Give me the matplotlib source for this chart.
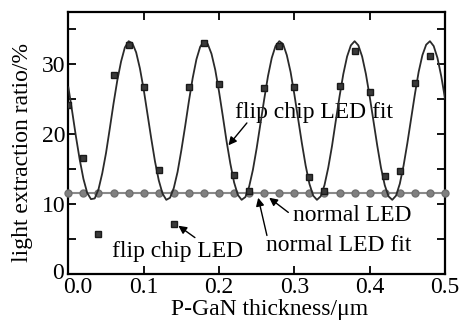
import numpy as np
import matplotlib
matplotlib.use("Agg")
import matplotlib.pyplot as plt
import matplotlib.transforms as mtransforms

plt.rcParams['font.family'] = ['Liberation Serif', 'DejaVu Serif']

# flip chip LED measured points
flip_x = [0.00, 0.02, 0.04, 0.06, 0.08, 0.10, 0.12, 0.14, 0.16, 0.18, 0.20, 0.22,
          0.24, 0.26, 0.28, 0.30, 0.32, 0.34, 0.36, 0.38, 0.40, 0.42, 0.44, 0.46, 0.48]
flip_y = [24.1, 16.6, 5.7, 28.4, 32.8, 26.8, 14.8, 7.1, 26.8, 33.1, 27.2, 14.1,
          11.8, 26.6, 32.6, 26.8, 13.8, 11.9, 26.9, 31.9, 26.1, 14.0, 14.7, 27.3, 31.2]

# flip chip LED fit curve, read every 0.005 um
fit_x = np.linspace(0, 0.5, 101)
fit_y = [26.7, 23.3, 19.7, 16.4, 13.6, 11.6, 10.7, 10.8, 12.1, 14.4,
         17.3, 20.8, 24.4, 27.7, 30.4, 32.4, 33.3, 33.0, 31.7, 29.4,
         26.4, 22.9, 19.4, 16.1, 13.4, 11.5, 10.6, 10.9, 12.3, 14.6,
         17.7, 21.1, 24.7, 28.0, 30.7, 32.5, 33.3, 32.9, 31.5, 29.2,
         26.1, 22.6, 19.0, 15.8, 13.1, 11.3, 10.6, 11.0, 12.5, 14.9,
         18.0, 21.5, 25.0, 28.3, 30.9, 32.6, 33.3, 32.9, 31.3, 28.9,
         25.7, 22.2, 18.7, 15.5, 12.9, 11.2, 10.6, 11.1, 12.7, 15.2,
         18.3, 21.9, 25.4, 28.6, 31.1, 32.7, 33.3, 32.7, 31.1, 28.6,
         25.4, 21.9, 18.4, 15.2, 12.7, 11.1, 10.6, 11.2, 12.9, 15.5,
         18.7, 22.2, 25.7, 28.9, 31.3, 32.8, 33.3, 32.6, 30.9, 28.3,
         25.1]

# normal LED points and fit
normal_x = np.round(np.arange(0, 0.501, 0.02), 2)
normal_y = [11.6] * len(normal_x)
normal_fit_x = [0.0, 0.5]
normal_fit_y = [11.6, 11.6]

fs = 17

fig = plt.figure(figsize=(4.65, 3.2), dpi=100)
ax = fig.add_axes([0.147, 0.144, 0.81, 0.819])

ax.plot(normal_fit_x, normal_fit_y, color='#8a8a8a', lw=1.5, zorder=2)
ax.plot(normal_x, normal_y, 'o', color='#808080', ms=5, mec='#707070', zorder=3, clip_on=False)
ax.plot(fit_x, fit_y, color='#2a2a2a', lw=1.3, zorder=4)
ax.plot(flip_x, flip_y, 's', color='#3a3a3a', ms=4.3, mec='#1a1a1a', zorder=5)

ax.set_xlim(0, 0.5)
ax.set_ylim(0, 37.5)
ax.set_xticks([0.0, 0.1, 0.2, 0.3, 0.4, 0.5])
ax.set_xticklabels(['0.0', '0.1', '0.2', '0.3', '0.4', '0.5'])
ax.set_yticks([0, 10, 20, 30])
ax.set_yticks([5, 15, 25, 35], minor=True)
ax.tick_params(which='both', direction='in', top=True, right=True, labelsize=fs,
               width=1.3, length=5.5)
ax.tick_params(axis='y', pad=2)
ax.tick_params(axis='x', pad=2)
for s in ax.spines.values():
    s.set_linewidth(1.6)

# shift the "0.0" label right and the y "0" up so they sit side by side
lbl = ax.get_xticklabels()[0]
lbl.set_transform(lbl.get_transform() + mtransforms.ScaledTranslation(0.09, 0, fig.dpi_scale_trans))
ylbl = ax.get_yticklabels()[0]
ylbl.set_transform(ylbl.get_transform() + mtransforms.ScaledTranslation(-0.02, 0.03, fig.dpi_scale_trans))

ax.set_xlabel('P-GaN thickness/μm', fontsize=fs)
ax.xaxis.set_label_coords(0.535, -0.095, transform=ax.transAxes)
ax.xaxis.label.set_va('top')
ax.set_ylabel('light extraction ratio/%', fontsize=fs)
ax.yaxis.set_label_coords(-0.121, 0.462)
ax.yaxis.label.set_va('center')

arrow = dict(arrowstyle='-|>', color='black', lw=1.0, mutation_scale=12, shrinkA=0, shrinkB=0)

ax.text(0.221, 23.1, 'flip chip LED fit', fontsize=fs, ha='left', va='center')
ax.annotate('', xy=(0.2125, 18.4), xytext=(0.237, 21.6), arrowprops=arrow)

ax.text(0.145, 3.2, 'flip chip LED', fontsize=fs, ha='center', va='center')
ax.annotate('', xy=(0.146, 6.9), xytext=(0.168, 5.2), arrowprops=arrow)

ax.text(0.2985, 8.3, 'normal LED', fontsize=fs, ha='left', va='center')
ax.annotate('', xy=(0.2666, 10.9), xytext=(0.292, 8.8), arrowprops=arrow)

ax.text(0.2626, 4.0, 'normal LED fit', fontsize=fs, ha='left', va='center')
ax.annotate('', xy=(0.252, 10.9), xytext=(0.2636, 5.5), arrowprops=arrow)

fig.savefig('out.png', dpi=100)
